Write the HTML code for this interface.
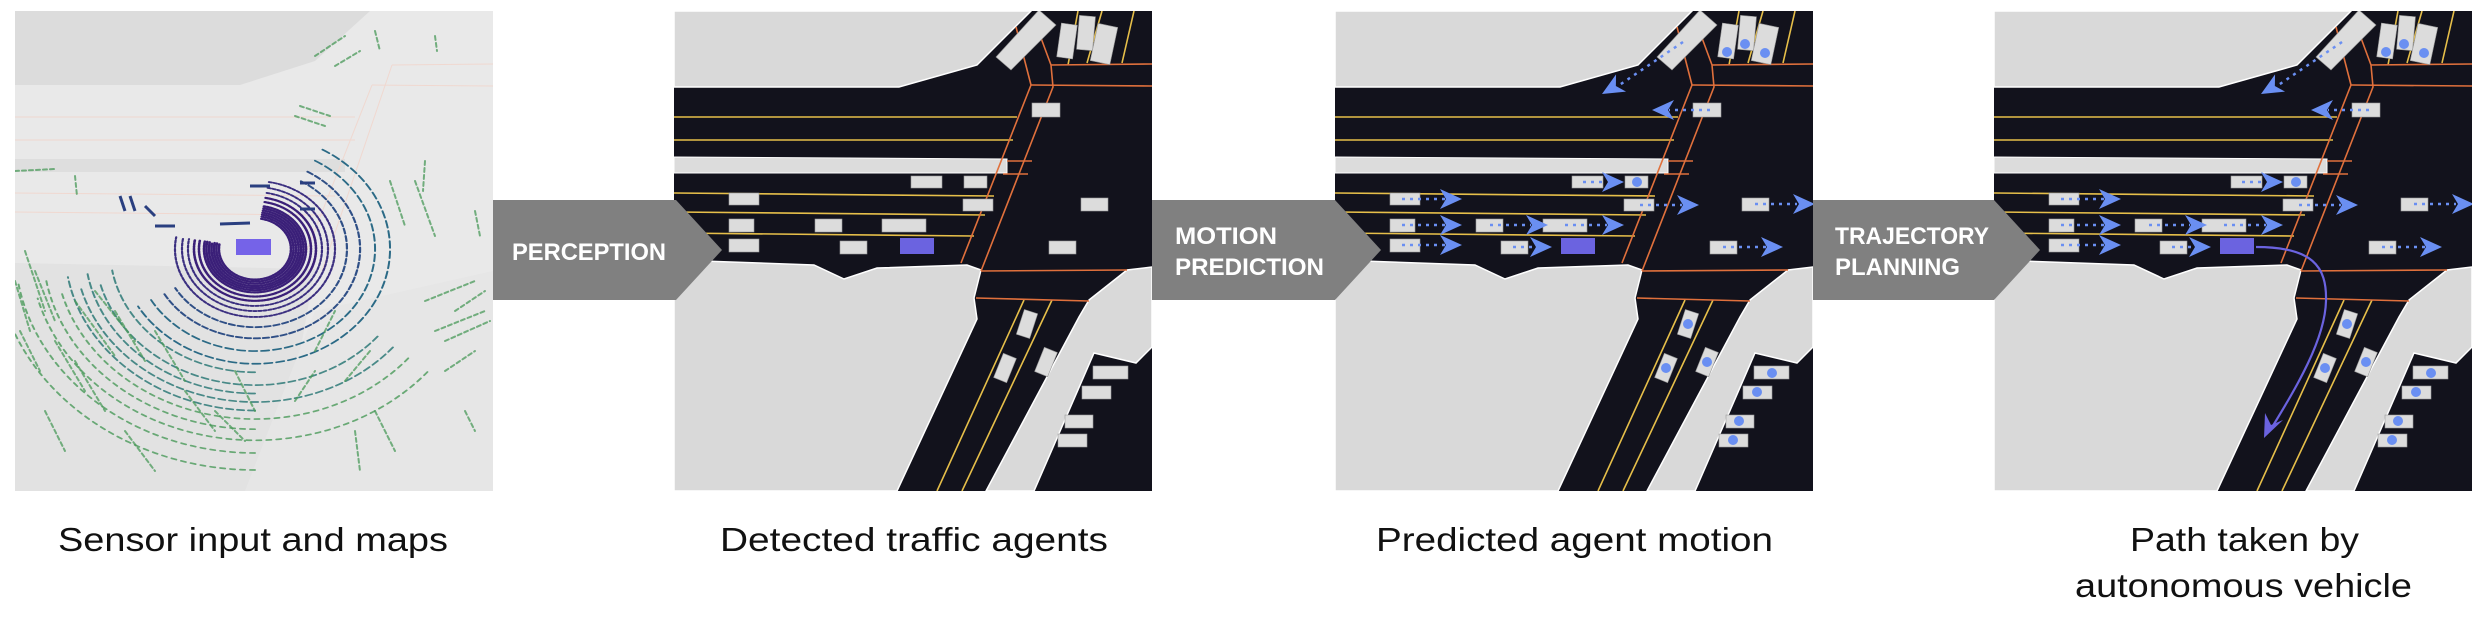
<!DOCTYPE html>
<html><head><meta charset="utf-8"><style>
html,body{margin:0;padding:0;background:#fff;}
svg{display:block;}
</style></head><body>
<svg width="2484" height="618" viewBox="0 0 2484 618" xmlns="http://www.w3.org/2000/svg">
<defs>
<clipPath id="pc"><rect x="0" y="0" width="478" height="480"/></clipPath>
<g id="scene">
  <rect x="0" y="0" width="478" height="480" fill="#12121c"/>
  <g fill="#d9d9d9" stroke="#ffffff" stroke-width="1.5">
    <polygon points="0,0 357,0 303,54 225,76 0,76"/>
    <polygon points="0,249 140,254 170,268 203,257 293,254 307,259 300,287 303,308 223,480 0,480"/>
    <polygon points="415,289 453,259 478,256 478,336 462,352 420,342 360,480 312,480 405,306"/>
  </g>
  <polygon points="0,146 333,148 333,162 0,162" fill="#dcdcdc" stroke="#fff" stroke-width="1"/>
  <g stroke="#e6bf4a" stroke-width="1.6" fill="none">
    <line x1="0" y1="106" x2="343" y2="106"/>
    <line x1="0" y1="129" x2="339" y2="129"/>
    <line x1="0" y1="182" x2="320" y2="185"/>
    <line x1="0" y1="201" x2="311" y2="204"/>
    <line x1="0" y1="222" x2="300" y2="225"/>
    <line x1="404" y1="0" x2="394" y2="54"/>
    <line x1="428" y1="0" x2="413" y2="52"/>
    <line x1="460" y1="0" x2="448" y2="52"/>
    <line x1="350" y1="289" x2="263" y2="480"/>
    <line x1="378" y1="289" x2="288" y2="480"/>
  </g>
  <g stroke="#e0703c" stroke-width="1.6" fill="none">
    <polyline points="342,16 357,74 287,252"/>
    <polyline points="367,27 377,54 379,76 307,260"/>
    <line x1="377" y1="54" x2="478" y2="53"/>
    <line x1="357" y1="74" x2="478" y2="75"/>
    <line x1="307" y1="260" x2="453" y2="259"/>
    <line x1="302" y1="287" x2="415" y2="290"/>
    <line x1="333" y1="150" x2="358" y2="150"/>
    <line x1="329" y1="163" x2="354" y2="163"/>
  </g>
  <g fill="#dcdcdc" stroke="#999" stroke-width="0.6">
    <polygon points="365,-1 382,14 337,59 322,46"/>
    <rect x="-8" y="-17" width="16" height="34" transform="translate(393,30) rotate(8)"/>
    <rect x="-8" y="-17" width="16" height="34" transform="translate(412,22) rotate(5)"/>
    <rect x="-10" y="-19" width="20" height="38" transform="translate(430,33) rotate(12)"/>
    <rect x="237" y="165" width="31" height="12"/>
    <rect x="290" y="165" width="23" height="12"/>
    <rect x="55" y="182" width="30" height="12"/>
    <rect x="289" y="188" width="30" height="12"/>
    <rect x="407" y="187" width="27" height="13"/>
    <rect x="55" y="208" width="25" height="13"/>
    <rect x="141" y="208" width="27" height="13"/>
    <rect x="208" y="208" width="44" height="13"/>
    <rect x="55" y="228" width="30" height="13"/>
    <rect x="166" y="230" width="27" height="13"/>
    <rect x="375" y="230" width="27" height="13"/>
    <rect x="358" y="92" width="28" height="14"/>
    <rect x="-7" y="-13" width="14" height="26" transform="translate(353,313) rotate(18)"/>
    <rect x="-7" y="-13" width="14" height="26" transform="translate(331,357) rotate(22)"/>
    <rect x="-7" y="-13" width="14" height="26" transform="translate(372,351) rotate(22)"/>
    <rect x="419" y="355" width="35" height="13"/>
    <rect x="408" y="375" width="29" height="13"/>
    <rect x="391" y="404" width="28" height="13"/>
    <rect x="384" y="423" width="29" height="13"/>
  </g>
  <rect x="226" y="227" width="34" height="16" fill="#6b63e0"/>
</g>
<path id="ah" d="M0,0 L-22,-10 L-16,0 L-22,10 Z" fill="#6a8ff2"/>
<g id="motion">
  <g stroke="#6a8ff2" stroke-width="2.5" stroke-dasharray="3 5" fill="none">
    <line x1="248" y1="171" x2="272" y2="171"/>
    <line x1="67" y1="188" x2="110" y2="188"/>
    <line x1="305" y1="194" x2="347" y2="194"/>
    <line x1="420" y1="193" x2="462" y2="193"/>
    <line x1="67" y1="214" x2="110" y2="214"/>
    <line x1="155" y1="214" x2="196" y2="214"/>
    <line x1="230" y1="214" x2="272" y2="214"/>
    <line x1="67" y1="234" x2="110" y2="234"/>
    <line x1="178" y1="236" x2="200" y2="236"/>
    <line x1="388" y1="236" x2="431" y2="236"/>
    <line x1="375" y1="99" x2="334" y2="99"/>
    <line x1="348" y1="31" x2="283" y2="75"/>
  </g>
  <use href="#ah" transform="translate(289,171)"/>
  <use href="#ah" transform="translate(127,188)"/>
  <use href="#ah" transform="translate(364,194)"/>
  <use href="#ah" transform="translate(480,193)"/>
  <use href="#ah" transform="translate(127,214)"/>
  <use href="#ah" transform="translate(213,214)"/>
  <use href="#ah" transform="translate(289,214)"/>
  <use href="#ah" transform="translate(127,234)"/>
  <use href="#ah" transform="translate(217,236)"/>
  <use href="#ah" transform="translate(448,236)"/>
  <use href="#ah" transform="translate(317,99) rotate(180)"/>
  <use href="#ah" transform="translate(267,83) rotate(150)"/>
  <g fill="#6a8ff2">
    <circle cx="302" cy="171" r="5"/>
    <circle cx="392" cy="41" r="5"/>
    <circle cx="410" cy="33" r="5"/>
    <circle cx="430" cy="42" r="5"/>
    <circle cx="353" cy="313" r="5"/>
    <circle cx="331" cy="357" r="5"/>
    <circle cx="372" cy="351" r="5"/>
    <circle cx="437" cy="362" r="5"/>
    <circle cx="422" cy="381" r="5"/>
    <circle cx="404" cy="410" r="5"/>
    <circle cx="398" cy="429" r="5"/>
  </g>
</g>
</defs>

<!-- Panel 1: lidar -->
<g transform="translate(15,11)" clip-path="url(#pc)">
  <rect x="0" y="0" width="478" height="480" fill="#e9e9e9"/>
  <polygon points="0,0 355,0 300,50 225,74 0,74" fill="#dcdcdc"/>
  <rect x="0" y="148" width="330" height="13" fill="#dedede"/>
  <polygon points="0,252 300,258 260,480 0,480" fill="#e2e2e2"/>
  <polygon points="300,300 478,260 478,480 230,480" fill="#e6e6e6"/>
  <g stroke="#f0d8d0" stroke-width="1" fill="none">
    <line x1="0" y1="106" x2="340" y2="106"/><line x1="0" y1="129" x2="340" y2="129"/>
    <line x1="0" y1="182" x2="320" y2="185"/><line x1="0" y1="201" x2="310" y2="204"/>
    <line x1="357" y1="74" x2="287" y2="252"/><line x1="377" y1="54" x2="307" y2="260"/>
    <line x1="377" y1="54" x2="478" y2="53"/><line x1="357" y1="74" x2="478" y2="75"/>
  </g>
  <g fill="none" stroke-linecap="round" transform="translate(240,238) scale(1,0.85)">
    <g stroke="#3a1f78" stroke-width="2.6" stroke-dasharray="2 1.2">
      <path d="M6.3,-35.5 A36,36 0 1 1 -35.5,-6.3"/>
      <path d="M6.7,-38 A38.5,38.5 0 1 1 -38,-6.7"/>
      <path d="M7.1,-40.4 A41,41 0 1 1 -40.4,-7.1"/>
      <path d="M7.5,-42.8 A43.5,43.5 0 1 1 -42.8,-7.5"/>
      <path d="M8,-45.3 A46,46 0 1 1 -45.3,-8"/>
      <path d="M8.5,-47.8 A48.5,48.5 0 1 1 -47.8,-8.5"/>
      <path d="M8.9,-50.2 A51,51 0 1 1 -50.2,-8.9"/>
      <path d="M9.7,-55.2 A56,56 0 1 1 -55.2,-9.7"/>
      <path d="M10.6,-60.1 A61,61 0 1 1 -60.1,-10.6"/>
    </g>
    <g stroke="#3b2f80" stroke-width="2.2" stroke-dasharray="3 2">
      <path d="M11.7,-66 A67,67 0 1 1 -66,-11.7"/>
      <path d="M12.7,-71.9 A73,73 0 1 1 -71.9,-12.7"/>
      <path d="M13.9,-78.8 A80,80 0 1 1 -78.8,-13.9"/>
    </g>
    <g stroke="#2f4f86" stroke-width="2.2" stroke-dasharray="6 3">
      <path d="M46,-79.7 A92,92 0 1 1 -79.7,46"/>
      <path d="M52.5,-90.9 A105,105 0 1 1 -90.9,52.5"/>
    </g>
    <g stroke="#2b6a86" stroke-width="2" stroke-dasharray="8 4">
      <path d="M60,-103.9 A120,120 0 1 1 -103.9,60"/>
      <path d="M67.5,-116.9 A135,135 0 1 1 -116.9,67.5"/>
    </g>
    <g stroke="#2e7a78" stroke-width="2" stroke-dasharray="7 4" opacity="0.85">
      <path d="M0,145 A145,145 0 0 1 -142.8,25.2"/>
      <path d="M122.6,102.9 A160,160 0 0 1 -154.6,41.4"/>
      <path d="M0,170 A170,170 0 0 1 -167.4,29.5"/>
      <path d="M137.9,115.7 A180,180 0 0 1 -173.9,46.6"/>
      <path d="M0,190 A190,190 0 0 1 -187.1,33"/>
    </g>
    <g stroke="#4a9a5a" stroke-width="2" stroke-dasharray="5 5" opacity="0.8">
      <path d="M153.2,128.6 A200,200 0 0 1 -193.2,51.8"/>
      <path d="M0,212 A212,212 0 0 1 -208.8,36.8"/>
      <path d="M172.4,144.7 A225,225 0 0 1 -217.3,58.2"/>
      <path d="M0,240 A240,240 0 0 1 -236.4,41.7"/>
      <path d="M0,260 A260,260 0 0 1 -256,45"/>
    </g>
  </g>
  <g stroke="#4a9a5a" stroke-width="2" stroke-linecap="round" fill="none" opacity="0.75" stroke-dasharray="4 3">
    <line x1="300" y1="45" x2="330" y2="25"/><line x1="320" y1="55" x2="345" y2="40"/>
    <line x1="285" y1="95" x2="315" y2="105"/><line x1="280" y1="105" x2="310" y2="115"/>
    <line x1="360" y1="20" x2="365" y2="40"/><line x1="420" y1="25" x2="422" y2="40"/>
    <line x1="375" y1="170" x2="390" y2="215"/><line x1="400" y1="170" x2="420" y2="225"/>
    <line x1="410" y1="150" x2="408" y2="180"/><line x1="460" y1="200" x2="465" y2="225"/>
    <line x1="0" y1="160" x2="40" y2="158"/><line x1="60" y1="165" x2="62" y2="185"/>
    <line x1="10" y1="240" x2="30" y2="300"/><line x1="20" y1="260" x2="40" y2="310"/>
    <line x1="0" y1="270" x2="15" y2="320"/><line x1="5" y1="320" x2="25" y2="360"/>
    <line x1="40" y1="330" x2="70" y2="380"/><line x1="60" y1="350" x2="90" y2="400"/>
    <line x1="30" y1="400" x2="50" y2="440"/><line x1="110" y1="420" x2="140" y2="460"/>
    <line x1="410" y1="290" x2="460" y2="270"/><line x1="420" y1="320" x2="470" y2="300"/>
    <line x1="430" y1="360" x2="460" y2="340"/><line x1="360" y1="400" x2="380" y2="440"/>
    <line x1="340" y1="420" x2="345" y2="460"/><line x1="450" y1="400" x2="460" y2="420"/>
    <line x1="100" y1="300" x2="130" y2="350"/><line x1="140" y1="320" x2="170" y2="370"/>
    <line x1="80" y1="280" x2="120" y2="330"/><line x1="60" y1="290" x2="100" y2="345"/>
    <line x1="170" y1="380" x2="200" y2="420"/><line x1="200" y1="400" x2="230" y2="430"/>
    <line x1="220" y1="360" x2="240" y2="400"/><line x1="300" y1="340" x2="320" y2="300"/>
    <line x1="440" y1="300" x2="470" y2="280"/><line x1="430" y1="330" x2="475" y2="310"/>
    <line x1="330" y1="370" x2="355" y2="340"/><line x1="280" y1="390" x2="300" y2="360"/>
  </g>
  <g stroke="#2a3f80" stroke-width="3" fill="none">
    <line x1="105" y1="185" x2="110" y2="200"/><line x1="115" y1="185" x2="120" y2="200"/>
    <line x1="130" y1="195" x2="140" y2="205"/><line x1="140" y1="215" x2="160" y2="215"/>
    <line x1="235" y1="175" x2="255" y2="175"/><line x1="285" y1="172" x2="300" y2="172"/>
    <line x1="205" y1="213" x2="235" y2="212"/><line x1="285" y1="198" x2="300" y2="198"/>
  </g>
  <rect x="221" y="228" width="35" height="16" fill="#7563e8"/>
</g>

<!-- Panels 2-4 -->
<g transform="translate(674,11)" clip-path="url(#pc)"><use href="#scene"/></g>
<g transform="translate(1335,11)" clip-path="url(#pc)"><use href="#scene"/><use href="#motion"/></g>
<g transform="translate(1994,11)" clip-path="url(#pc)"><use href="#scene"/><use href="#motion"/>
  <path d="M262,236 C318,236 333,255 332,290 C331,330 300,380 277,418" fill="none" stroke="#6b63e0" stroke-width="2.2"/>
  <path d="M270,427 L271,402 L277,414 L289,409 Z" fill="#6b63e0"/>
</g>

<!-- Arrows -->
<g fill="#808080">
  <polygon points="493,200 676,200 722,250 676,300 493,300"/>
  <polygon points="1152,200 1335,200 1381,250 1335,300 1152,300"/>
  <polygon points="1813,200 1994,200 2040,250 1994,300 1813,300"/>
</g>
<g font-family="'Liberation Sans', sans-serif" font-weight="bold" font-size="24" fill="#ffffff">
  <text x="512" y="260" textLength="154" lengthAdjust="spacingAndGlyphs">PERCEPTION</text>
  <text x="1175" y="244" textLength="102" lengthAdjust="spacingAndGlyphs">MOTION</text>
  <text x="1175" y="275" textLength="149" lengthAdjust="spacingAndGlyphs">PREDICTION</text>
  <text x="1835" y="244" textLength="154" lengthAdjust="spacingAndGlyphs">TRAJECTORY</text>
  <text x="1835" y="275" textLength="125" lengthAdjust="spacingAndGlyphs">PLANNING</text>
</g>

<!-- Captions -->
<g font-family="'Liberation Sans', sans-serif" font-size="33" fill="#111">
  <text x="58" y="551" textLength="390" lengthAdjust="spacingAndGlyphs">Sensor input and maps</text>
  <text x="720" y="551" textLength="388" lengthAdjust="spacingAndGlyphs">Detected traffic agents</text>
  <text x="1376" y="551" textLength="397" lengthAdjust="spacingAndGlyphs">Predicted agent motion</text>
  <text x="2130" y="551" textLength="229" lengthAdjust="spacingAndGlyphs">Path taken by</text>
  <text x="2075" y="597" textLength="337" lengthAdjust="spacingAndGlyphs">autonomous vehicle</text>
</g>
</svg>
</body></html>
